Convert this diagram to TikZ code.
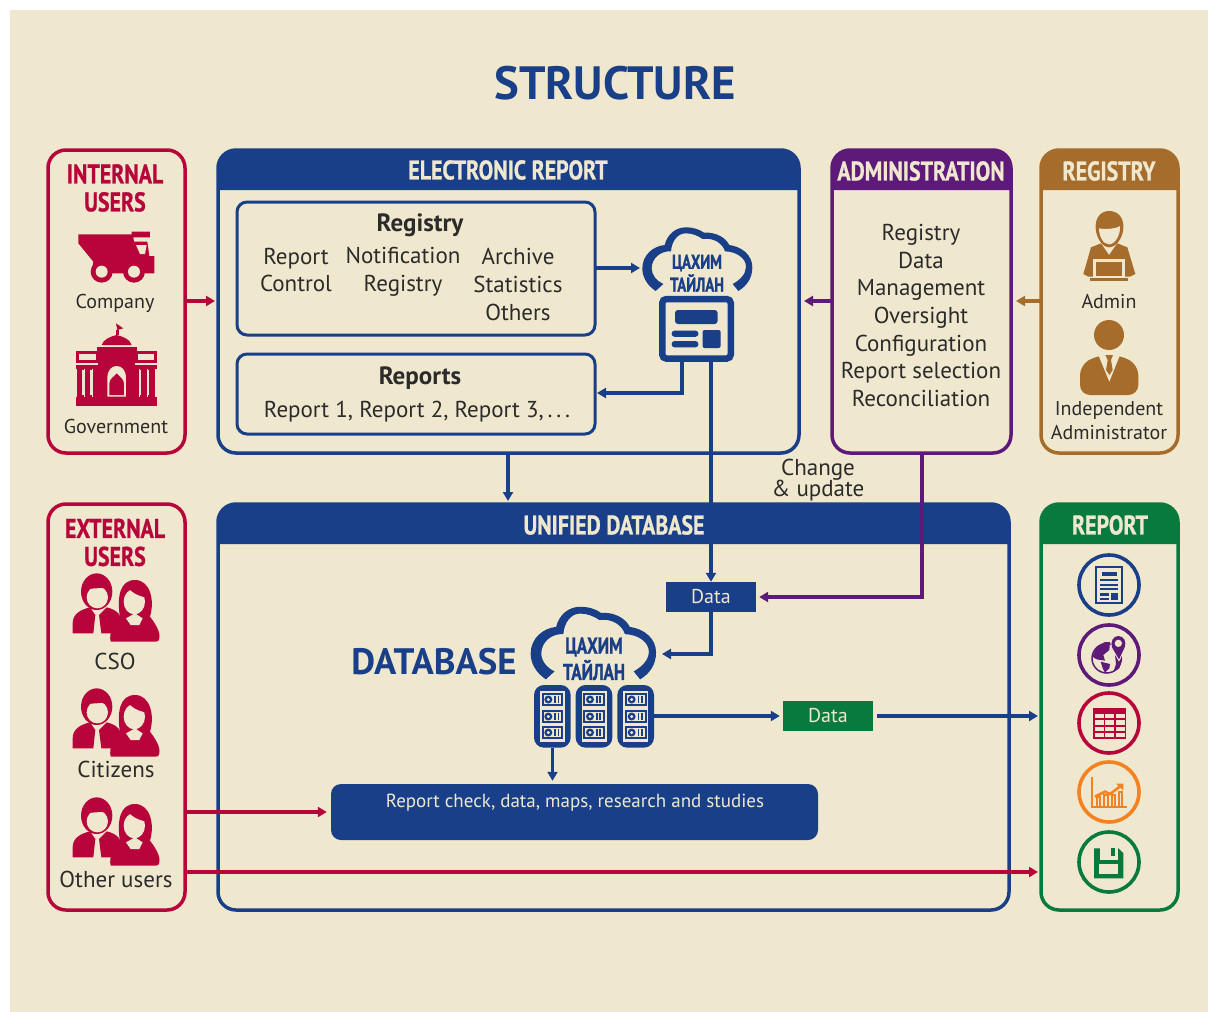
\documentclass[tikz,border=0pt]{standalone}
\usepackage{fontspec}
\usetikzlibrary{arrows.meta}
\setmainfont{PT Sans}
\newfontfamily\hf[FakeStretch=0.81,FakeBold=0.8]{PT Sans}
\newfontfamily\cf[FakeStretch=0.74,FakeBold=1]{PT Sans}
\definecolor{bg}{HTML}{EFE8CF}
\definecolor{cblue}{HTML}{183F88}
\definecolor{cred}{HTML}{B7053B}
\definecolor{cpur}{HTML}{5E1A78}
\definecolor{cbrn}{HTML}{A56C2C}
\definecolor{cgrn}{HTML}{087A3E}
\definecolor{corg}{HTML}{F58220}
\definecolor{ctxt}{HTML}{2B2B2B}
\tikzset{
  panel/.style={draw=#1,line width=3.5pt,rounded corners=18pt,inner sep=0pt,outer sep=0pt},
  inbox/.style={draw=cblue,line width=3pt,rounded corners=10pt,inner sep=0pt,outer sep=0pt},
  conn/.style={draw=#1,line width=3.3pt,-{Triangle[length=9pt,width=10pt]}},
  plain/.style={text=ctxt,font=\fontsize{23}{27.7}\selectfont,align=center,inner sep=0pt},
  small/.style={text=ctxt,font=\fontsize{20}{23.5}\selectfont,align=center,inner sep=0pt},
  hd/.style={text=#1,font=\hf\bfseries\fontsize{27}{28}\selectfont,align=center,inner sep=0pt},
  clouds/.style={text=cblue,font=\cf\bfseries\fontsize{#1}{#1}\selectfont,inner sep=0pt},
  tagbox/.style={fill=#1,text=bg,font=\fontsize{20}{24}\selectfont,inner sep=0pt,minimum width=90pt,minimum height=30pt},
  ring/.style={draw=#1,line width=3.6pt,circle,inner sep=0pt,minimum size=60pt},
  cloudpic/.pic={
    \fill[cblue,even odd rule] (197,243) .. controls (170,225) and (157,200) .. (157,175)
      .. controls (157,135) and (190,108) .. (224,105)
      .. controls (232,72) and (258,52) .. (287,52)
      .. controls (310,52) and (328,58) .. (342,68)
      .. controls (375,66) and (405,80) .. (418,105)
      .. controls (455,110) and (487,135) .. (487,172)
      .. controls (487,205) and (470,228) .. (445,243)
      -- (428,222)
      .. controls (450,210) and (468,192) .. (468,170)
      .. controls (468,145) and (440,125) .. (405,124)
      .. controls (398,100) and (370,82) .. (338,87)
      .. controls (320,75) and (305,70) .. (287,70)
      .. controls (262,70) and (245,95) .. (243,124)
      .. controls (212,122) and (185,145) .. (185,175)
      .. controls (185,195) and (200,213) .. (220,222) -- cycle;
  },
  couple/.pic={
    \begin{scope}[scale=1/3]
    \fill[cred] (170,275) ellipse (47 and 55);
    \fill[bg] (172,292) ellipse (32 and 33);
    \fill[cred] (135,265) .. controls (160,268) and (185,262) .. (205,262) -- (210,245) -- (170,225) -- (135,240) -- cycle;
    \fill[cred] (98,400) -- (98,370) .. controls (98,340) and (125,328) .. (150,322)
      -- (166,345) -- (160,400) -- cycle;
    \fill[cred] (177,345) -- (200,322) .. controls (225,328) and (245,340) .. (245,370) -- (245,400) -- (184,400) -- cycle;
    \fill[cred] (212,425) .. controls (205,395) and (225,370) .. (240,352)
      .. controls (230,290) and (240,240) .. (285,240)
      .. controls (330,240) and (345,300) .. (330,350)
      .. controls (345,370) and (362,395) .. (358,415) .. controls (356,425) and (350,425) .. (345,425) -- cycle;
    \fill[bg] (283,305) ellipse (32 and 38);
    \fill[bg] (258,355) -- (285,340) -- (308,355) -- (298,375) -- (272,375) -- cycle;
    \fill[cred] (265,265) .. controls (285,285) and (305,290) .. (318,292) -- (310,255) -- (270,250) -- cycle;
    \end{scope}
  },
  serverpic/.pic={
    \begin{scope}[scale=1/3]
    \fill[cblue,rounded corners=10pt] (102,285) rectangle (212,473);
    \fill[bg] (120,303) rectangle (195,455);
    \foreach \r in {309,360,408}{
      \fill[cblue] (125,\r) rectangle (190,\r+39);
      \fill[bg] (131,\r+6) rectangle (184,\r+33);
      \fill[cblue] (145,\r+19.5) circle (12);
      \fill[bg] (145,\r+19.5) circle (5);
      \fill[cblue] (163,\r+9) rectangle (168,\r+30);
      \fill[cblue] (173,\r+9) rectangle (178,\r+30);
    }
    \end{scope}
  },
}
\begin{document}
\begin{tikzpicture}[x=1pt,y=-1pt]
\useasboundingbox (0,0) rectangle (1208,1012);
\fill[white] (0,0) rectangle (1208,1012);
\fill[bg] (10,10) rectangle (1208,1012);

\node[text=cblue,font=\bfseries\fontsize{46.7}{50}\selectfont,inner sep=0pt] (title) at (615,83) {STRUCTURE};

% panels
\node[panel=cred,minimum width=137pt,minimum height=303pt] (internal) at (116.5,301.5) {};
\node[panel=cblue,minimum width=581pt,minimum height=303pt] (elec) at (508.5,301.5) {};
\node[panel=cpur,minimum width=179pt,minimum height=303pt] (admin) at (921.5,301.5) {};
\node[panel=cbrn,minimum width=137pt,minimum height=303pt] (regp) at (1109.5,301.5) {};
\node[panel=cred,minimum width=137pt,minimum height=406pt] (external) at (116.5,707) {};
\node[panel=cblue,minimum width=791pt,minimum height=406pt] (unified) at (613.5,707) {};
\node[panel=cgrn,minimum width=137pt,minimum height=406pt] (reportp) at (1109.5,707) {};

% headers
\fill[cblue] (218,190) {[rounded corners=18pt] -- (218,150) -- (799,150)} -- (799,190) -- cycle;
\fill[cpur] (832,190) {[rounded corners=18pt] -- (832,150) -- (1011,150)} -- (1011,190) -- cycle;
\fill[cbrn] (1041,190) {[rounded corners=18pt] -- (1041,150) -- (1178,150)} -- (1178,190) -- cycle;
\fill[cblue] (218,544) {[rounded corners=18pt] -- (218,504) -- (1009,504)} -- (1009,544) -- cycle;
\fill[cgrn] (1041,544) {[rounded corners=18pt] -- (1041,504) -- (1178,504)} -- (1178,544) -- cycle;

\node[hd=bg] (helec) at (508,170) {ELECTRONIC REPORT};
\node[hd=bg] (hadmin) at (921,171) {ADMINISTRATION};
\node[hd=bg] (hreg) at (1109,171) {REGISTRY};
\node[hd=bg] (huni) at (614,525) {UNIFIED DATABASE};
\node[hd=bg] (hrep) at (1110,525) {REPORT};
\node[hd=cred] (hint) at (115,188) {INTERNAL\\USERS};
\node[hd=cred] (hext) at (115,542.5) {EXTERNAL\\USERS};

% inner boxes
\node[inbox,minimum width=358pt,minimum height=133pt] (regbox) at (416,268.5) {};
\node[inbox,minimum width=358pt,minimum height=80pt] (repbox) at (416,394) {};
\node[plain,font=\bfseries\fontsize{25}{28}\selectfont] (tregb) at (420,225.5) {Registry};
\node[plain] (tc1) at (296,270) {Report\\Control};
\node[plain] (tc2) at (403,271.5) {Notification\\Registry};
\node[plain] (tc3) at (518,284.5) {Archive\\Statistics\\Others};
\node[plain,font=\bfseries\fontsize{25}{28}\selectfont] (trepb) at (420,378) {Reports};
\node[plain] (trep) at (417,412) {Report 1, Report 2, Report 3,\,.\,.\,.};

% cloud and monitor
\pic at (590,210) [scale=1/3] {cloudpic};
\node[clouds=20] (c1a) at (697,263) {ЦАХИМ};
\node[clouds=20] (c1b) at (697,283) {ТАЙЛАН};
\node[draw=cblue,line width=6.5pt,rounded corners=4pt,inner sep=0pt,outer sep=3.25pt,minimum width=68.5pt,minimum height=59.5pt] (mon) at (696.5,328.8) {};
\fill[cblue,rounded corners=3pt] (675,310) rectangle (717.6,324);
\fill[cblue,rounded corners=3pt] (671.6,330.6) rectangle (698.4,336.8);
\fill[cblue,rounded corners=3pt] (671.6,341) rectangle (698.4,347.4);
\fill[cblue,rounded corners=2pt] (702.6,330) rectangle (720.6,348);

% admin text
\node[plain] (tadm) at (921,315.5) {Registry\\Data\\Management\\Oversight\\Configuration\\Report selection\\Reconciliation};
\node[plain] (tchg) at (818,480) [font=\fontsize{23}{21.5}\selectfont] {Change\\\& update};

% internal users icons
\begin{scope}[shift={(30,140)},scale=1/3]
\fill[cred] (145,283) -- (305,283) -- (305,275) -- (360,275) -- (360,292) -- (310,292) -- (312,305) -- (352,305) -- (358,348) -- (373,348) -- (373,400) -- (245,400) -- (185,400) -- (190,365) -- (145,310) -- cycle;
\fill[bg] (318,315) -- (350,315) -- (345,342) -- (330,342) -- cycle;
\fill[cred] (215,395) circle (33);
\fill[bg] (215,395) circle (18);
\fill[cred] (312,395) circle (33);
\fill[bg] (312,395) circle (18);
\fill[cred] (138,770) rectangle (382,798);
\fill[cred] (215,615) .. controls (220,598) and (240,590) .. (260,585) .. controls (280,590) and (300,598) .. (305,615) -- cycle;
\fill[cred] (258,585) rectangle (266,570);
\fill[cred] (258,550) -- (280,565) -- (262,570) -- cycle;
\fill[cred] (200,620) rectangle (320,660);
\fill[cred] (138,632) rectangle (205,670);
\fill[bg] (148,642) rectangle (197,660);
\fill[cred] (315,632) rectangle (382,670);
\fill[bg] (323,642) rectangle (372,660);
\fill[cred] (138,676) rectangle (382,686);
\foreach \x in {142,166,190,306,330,354}{\fill[cred] (\x,686) rectangle (\x+20,770);}
\foreach \x in {156,180,326,350}{\fill[bg] (\x,690) rectangle (\x+6,766);}
\fill[cred] (204,655) rectangle (316,770);
\fill[bg] (232,770) -- (232,715) .. controls (232,690) and (245,678) .. (260,678) .. controls (275,678) and (288,690) .. (288,715) -- (288,770) -- cycle;
\fill[cred] (238,765) -- (238,730) .. controls (240,715) and (250,712) .. (260,700) .. controls (270,712) and (280,715) .. (282,730) -- (282,765) -- cycle;
\end{scope}
\node[small] (tcomp) at (115,303) {Company};
\node[small] (tgov) at (116,426) {Government};

% registry icons
\begin{scope}[shift={(1030,140)},scale=1/3]
\fill[cbrn] (197,265) .. controls (195,230) and (215,213) .. (237,213) .. controls (262,213) and (282,230) .. (280,265) .. controls (278,295) and (258,322) .. (237,322) .. controls (218,322) and (199,295) .. (197,265) -- cycle;
\fill[bg] (207,265) .. controls (220,268) and (255,268) .. (270,258) .. controls (272,285) and (255,313) .. (237,313) .. controls (220,313) and (207,290) .. (207,265) -- cycle;
\fill[cbrn] (160,402) -- (183,322) -- (213,310) -- (237,345) -- (262,310) -- (292,322) -- (316,402) -- (300,410) -- (175,410) -- cycle;
\fill[bg] (190,358) rectangle (285,410);
\fill[cbrn] (198,365) rectangle (277,408);
\fill[cbrn] (180,413) rectangle (295,422);
\fill[cbrn] (237,585) circle (45);
\fill[cbrn,rounded corners=10pt] (150,765) -- (150,675) -- (205,645) -- (270,645) -- (325,675) -- (325,765) -- cycle;
\fill[bg] (205,645) -- (238,725) -- (270,645) -- cycle;
\fill[cbrn] (226,645) -- (249,645) -- (243,660) -- (248,690) -- (238,705) -- (228,690) -- (233,660) -- cycle;
\end{scope}
\node[small] (tadmn) at (1109,301.5) {Admin};
\node[small] (tind) at (1109,420.5) {Independent\\Administrator};

% external users
\pic at (40,500) {couple};
\pic at (40,615) {couple};
\pic at (40,724) {couple};
\node[plain] (tcso) at (115,661) {CSO};
\node[plain] (tcit) at (116,769) {Citizens};
\node[plain] (toth) at (116,879) {Other users};

% database
\node[text=cblue,font=\bfseries\fontsize{36.8}{40}\selectfont,inner sep=0pt] (tdb) at (434,662) {DATABASE};
\pic at (471,587) [scale=0.38] {cloudpic};
\node[clouds=23] (c2a) at (594,647) {ЦАХИМ};
\node[clouds=23] (c2b) at (594,670) {ТАЙЛАН};
\pic at (500,590) {serverpic};
\pic at (541.67,590) {serverpic};
\pic at (583.33,590) {serverpic};
\coordinate (srvbot) at (552.5,748);
\coordinate (srvout) at (654,716);

\node[tagbox=cblue] (data1) at (711,597) {Data};
\node[tagbox=cgrn] (data2) at (828,715.5) {Data};
\node[fill=cblue,rounded corners=10pt,minimum width=487pt,minimum height=56pt,inner sep=0pt] (check) at (574.5,812) {};
\node[text=bg,font=\fontsize{19}{24}\selectfont,inner sep=0pt] (tcheck) at (575,802.5) {Report check, data, maps, research and studies};

% report icons
\node[ring=cblue] (r1) at (1109,585) {};
\node[ring=cpur] (r2) at (1109,655) {};
\node[ring=cred] (r3) at (1109,723) {};
\node[ring=corg] (r4) at (1109,792) {};
\node[ring=cgrn] (r5) at (1109,862) {};
\begin{scope}[shift={(1050,540)},scale=1/3]
\draw[cblue,line width=2pt] (139,82) rectangle (216,188);
\fill[cblue] (155,95) rectangle (200,107);
\foreach \y in {117,131,145}{\fill[cblue] (150,\y) rectangle (205,\y+6);}
\fill[cblue] (150,160) rectangle (178,167);
\fill[cblue] (150,173) rectangle (178,180);
\fill[cblue] (184,158) rectangle (205,181);
% globe
\draw[cpur,line width=1.5pt] (170,355) circle (44);
\fill[cpur] (127,350) -- (140,320) -- (165,306) -- (180,306) -- (178,330) -- (160,345) -- (165,362) -- (140,358) -- cycle;
\fill[cpur] (152,365) -- (180,372) -- (178,385) -- (165,398) -- (158,385) -- cycle;
\fill[cpur] (195,345) -- (215,360) -- (208,385) -- (190,396) -- (198,372) -- cycle;
\fill[bg] (205,306) circle (24);
\fill[bg] (182,320) -- (228,320) -- (207,365) -- cycle;
\fill[cpur] (186,322) .. controls (180,305) and (190,288) .. (205,288) .. controls (222,288) and (230,305) .. (224,322) -- (207,358) -- cycle;
\fill[bg] (205,310) circle (11);
\end{scope}
\begin{scope}[shift={(1050,690)},scale=1/3]
\fill[cred] (128,55) rectangle (228,147);
\foreach \x in {134,166,197}{\foreach \y in {72,91,110,129}{\fill[bg] (\x,\y) rectangle (\x+27,\y+13);}}
% chart
\draw[corg,line width=2.6pt] (126,260) -- (126,351) -- (232,351);
\foreach \x/\y in {146/322,168/316,190/316,212/306}{\draw[corg,line width=2pt] (\x-5,351) -- (\x-5,\y) -- (\x+5,\y) -- (\x+5,351);}
\draw[corg,line width=2.6pt] (135,320) -- (165,305) -- (180,312) -- (212,288);
\fill[corg] (198,281) -- (220,281) -- (220,302) -- cycle;
% floppy
\fill[cgrn] (132,475) -- (205,475) -- (220,490) -- (220,565) -- (132,565) -- cycle;
\fill[bg] (150,475) rectangle (205,510);
\fill[cgrn] (183,475) rectangle (195,497);
\fill[bg] (147,522) rectangle (205,552);
\end{scope}

% connectors
\draw[conn=cred,shorten >=3pt] (internal.east |- 0,301) -- (elec.west |- 0,301);
\draw[conn=cblue] (regbox.east |- 0,268) -- (640,268);
\draw[conn=cblue,shorten >=2pt] (mon.south -| 682,0) -- (682,393) -- (repbox.east |- 0,393);
\draw[conn=cblue] (mon.south -| 711,0) -- (data1.north -| 711,0);
\draw[conn=cblue,shorten >=3pt] (elec.south -| 508,0) -- (unified.north -| 508,0);
\draw[conn=cpur,shorten >=5pt] (admin.west |- 0,301) -- (elec.east |- 0,301);
\draw[conn=cbrn,shorten >=5pt] (regp.west |- 0,301) -- (admin.east |- 0,301);
\draw[conn=cpur,shorten >=3pt] (admin.south -| 922,0) -- (922,597) -- (data1.east);
\draw[conn=cblue] (data1.south) -- (711,654) -- (662,654);
\draw[conn=cblue,shorten >=3pt] (srvout) -- (data2.west |- srvout);
\draw[conn=cblue,shorten >=3pt] (data2.east |- srvout) ++(4,0) -- (reportp.west |- srvout);
\draw[conn=cblue,shorten >=3pt] (srvbot) -- (check.north -| srvbot);
\draw[conn=cred,shorten >=4pt] (external.east |- 0,812) -- (check.west |- 0,812);
\draw[conn=cred,shorten >=3pt] (external.east |- 0,872) -- (reportp.west |- 0,872);
\end{tikzpicture}
\end{document}
